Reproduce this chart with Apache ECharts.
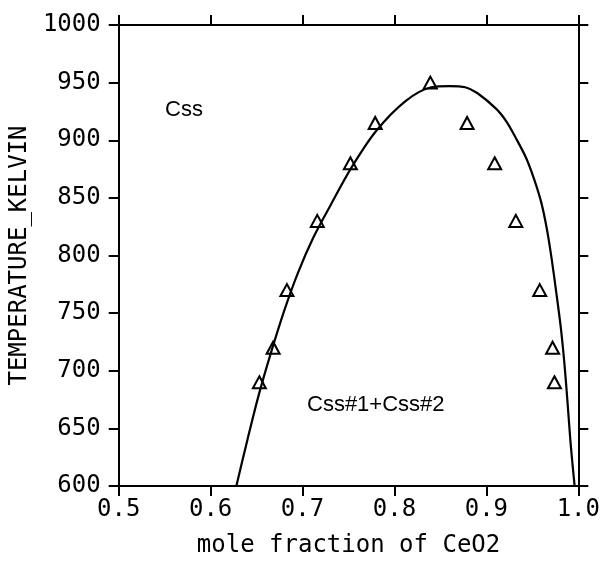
<!DOCTYPE html>
<html><head><meta charset="utf-8">
<script src="https://cdn.jsdelivr.net/npm/echarts@6/dist/echarts.min.js"></script>
<style>html,body{margin:0;padding:0;background:#fff}#c{width:603px;height:563px}</style>
</head><body><div id="c"></div>
<script>
const xTicks = [0.5, 0.6, 0.7, 0.8, 0.9, 1.0];
const yTicks = [600, 650, 700, 750, 800, 850, 900, 950, 1000];
const curveX = [0.628,0.640,0.652,0.665,0.680,0.695,0.712,0.730,0.753,0.780,0.812,0.840,0.860,0.877,0.890,0.911,0.922,0.932,0.943,0.952,0.960,0.966,0.971,0.976,0.981,0.985,0.9885,0.9915,0.9945,0.996];
const curveT = [600,640,678,714,752,785,816,843,876,908,934,946,947,946,941,927,916,902,885,866,845,822,797,768,737,705,670,638,612,600];
const expX = [0.653,0.668,0.683,0.716,0.752,0.779,0.839,0.879,0.909,0.932,0.958,0.972,0.974];
const expT = [690,720,770,830,880,915,950,915,880,830,770,720,690];

const mono = 'DejaVu Sans Mono';
const chart = echarts.init(document.getElementById('c'));
const axisLine = {show:true, lineStyle:{color:'#000', width:2}};
const tick = {show:true, inside:false, length:10, lineStyle:{color:'#000', width:2}};
chart.setOption({
  animation:false,
  backgroundColor:'#fff',
  grid:{left:115, right:20, top:25, bottom:69},
  xAxis:[{
    type:'value', min:0.5, max:1.0, interval:0.1, position:'bottom',
    axisLine, axisTick:tick, splitLine:{show:false},
    axisLabel:{color:'#000', fontFamily:mono, fontSize:24, margin:12, formatter:v=>v.toFixed(1)},
    name:'mole fraction of CeO2', nameLocation:'middle', nameGap:48,
    nameTextStyle:{color:'#000', fontFamily:mono, fontSize:24}
  },{
    type:'value', min:0.5, max:1.0, interval:0.1, position:'top',
    axisLine, axisTick:tick, axisLabel:{show:false}, splitLine:{show:false}
  }],
  yAxis:[{
    type:'value', min:600, max:1000, interval:50, position:'left',
    axisLine, axisTick:tick, splitLine:{show:false},
    axisLabel:{color:'#000', fontFamily:mono, fontSize:24, margin:18, formatter:v=>String(v)},
    name:'TEMPERATURE_KELVIN', nameLocation:'middle', nameGap:84,
    nameTextStyle:{color:'#000', fontFamily:mono, fontSize:24}
  },{
    type:'value', min:600, max:1000, interval:50, position:'right',
    axisLine, axisTick:tick, axisLabel:{show:false}, splitLine:{show:false}
  }],
  series:[{
    type:'line', data:curveX.map((x,i)=>[x,curveT[i]]), smooth:0.3, showSymbol:false,
    lineStyle:{color:'#000', width:2.2}
  },{
    type:'scatter', data:expX.map((x,i)=>[x,expT[i]]), symbol:'triangle', symbolSize:[13,12],
    itemStyle:{color:'#fff', borderColor:'#000', borderWidth:2, opacity:1}
  }],
  graphic:[
    {type:'text', left:165, top:99, style:{text:'Css', fontFamily:'Liberation Sans', fontSize:22, fill:'#000'}},
    {type:'text', left:307, top:394, style:{text:'Css#1+Css#2', fontFamily:'Liberation Sans', fontSize:22, fill:'#000'}}
  ]
});
</script></body></html>
